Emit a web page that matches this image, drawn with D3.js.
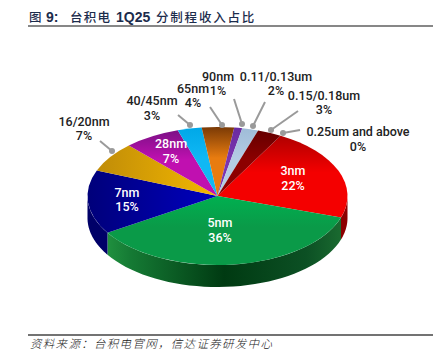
<!DOCTYPE html>
<html>
<head>
<meta charset="utf-8">
<script src="https://cdn.jsdelivr.net/npm/d3@7"></script>
<style>
  html, body { margin: 0; padding: 0; background: #fff; }
  svg { display: block; }
  text { font-family: Roboto, "Noto Sans CJK SC", sans-serif; }
</style>
</head>
<body>
<div id="chart"></div>
<script>
// #1 - The data (clockwise, starting at 3nm)
var nodes = ['3nm', '5nm', '7nm', '16/20nm', '28nm', '40/45nm', '65nm', '90nm', '0.11/0.13um', '0.15/0.18um', '0.25um and above'];
var shares = [22, 36, 15, 7, 7, 3, 4, 1, 2, 3, 0];

// slice colours: rim side, then centre side of the top face
var faceDark = ['#b00000', '#00b050', '#00007a', '#c08c08', '#7c1086', '#00a8e8', '#7a3a06', '#6a2ca0', '#9fbcd8', '#660000', '#660000'];
var faceLight = ['#f40000', '#0a9a48', '#0000c0', '#f4b800', '#c010b0', '#10b8f4', '#e87c10', '#7a34b0', '#b4cce4', '#8c0000', '#8c0000'];

// #2 - Build the SVG
var width = 442, height = 364;
var svg = d3.select('#chart').append('svg')
  .attr('width', width)
  .attr('height', height);
var defs = svg.append('defs');

// header, placed piece by piece because the spacing is uneven
var titleParts = ['图', '9:', '台积电', '1Q25', '分制程收入占比'];
var titleX = [29, 46, 70, 116, 156];
titleParts.forEach(function(t, i) {
  var latin = i === 1 || i === 3;
  svg.append('text').attr('x', titleX[i]).attr('y', 22)
    .style('font-family', latin ? '"Liberation Sans"' : '"Noto Sans CJK SC"')
    .style('font-size', latin ? '14px' : '12.5px')
    .style('font-weight', latin ? 700 : 500)
    .style('letter-spacing', i === 4 ? '1.8px' : (latin ? '0' : '1.2px'))
    .style('fill', '#1c2c4c')
    .text(t);
});
svg.append('line').attr('x1', 28).attr('x2', 433).attr('y1', 26).attr('y2', 26)
  .attr('style', 'stroke: #111; stroke-width: 1.2px');
svg.append('line').attr('x1', 28).attr('x2', 433).attr('y1', 335).attr('y2', 335)
  .attr('style', 'stroke: #444; stroke-width: 1.4px');
svg.append('text').attr('x', 30).attr('y', 348)
  .style('font-family', '"Noto Sans CJK SC"')
  .style('font-size', '11.5px').style('font-style', 'italic').style('font-weight', 300)
  .style('letter-spacing', '1.3px').style('fill', '#222')
  .text('资料来源\uFF1A台积电官网\uFF0C信达证券研发中心');

// #3 - Pie geometry: a circle squashed into an ellipse, plus a wall below it
var cx = 217.5, cy = 196, rx = 130, ry = 69, depth = 22;
var deg = Math.PI / 180;
var pie = d3.pie().sort(null).startAngle(29 * deg).endAngle(389 * deg)(shares);

var px = function(a) { return cx + rx * Math.sin(a); };
var py = function(a) { return cy - ry * Math.cos(a); };

// the wall, only the part of the rim facing the viewer
var wallStops = [
  [0, '#20903f'], [0.1, '#157a34'], [0.5, '#003a12'], [0.85, '#0c5024'], [1, '#1a6a30']
];
var wallGrad = defs.append('linearGradient').attr('id', 'wall-green')
  .attr('gradientUnits', 'userSpaceOnUse')
  .attr('x1', px(238 * deg)).attr('x2', px(108 * deg)).attr('y1', 0).attr('y2', 0);
wallStops.forEach(function(s) {
  wallGrad.append('stop').attr('offset', s[0]).attr('stop-color', s[1]);
});
var wallFill = {'3nm': '#8c0000', '5nm': 'url(#wall-green)', '7nm': '#000068'};

var line = d3.line().x(function(d) { return d[0]; }).y(function(d) { return d[1]; });
pie.forEach(function(d, i) {
  var a0 = Math.max(d.startAngle, 90 * deg), a1 = Math.min(d.endAngle, 270 * deg);
  if (a1 <= a0) return;
  var n = 40;
  var top = d3.range(n + 1).map(function(k) {
    var a = a0 + (a1 - a0) * k / n;
    return [px(a), py(a)];
  });
  var bottom = top.slice().reverse().map(function(p) { return [p[0], p[1] + depth]; });
  svg.append('path')
    .attr('d', line(top.concat(bottom)) + 'Z')
    .attr('fill', wallFill[nodes[i]]);
});

// the top face
var arc = d3.arc().innerRadius(0).outerRadius(rx);
var face = svg.append('g')
  .attr('transform', 'translate(' + cx + ',' + cy + ') scale(1,' + (ry / rx) + ')');
pie.forEach(function(d, i) {
  if (d.value === 0) return;
  var id = 'face-' + i;
  // 7nm and 16/20nm darken towards the left rim, the others towards the top
  var sideways = i === 2 || i === 3;
  var g = defs.append('linearGradient').attr('id', id)
    .attr('x1', 0).attr('y1', 0)
    .attr('x2', sideways ? 1 : 0).attr('y2', sideways ? 0 : 1);
  g.append('stop').attr('offset', 0).attr('stop-color', faceDark[i]);
  g.append('stop').attr('offset', sideways ? 1 : 0.45).attr('stop-color', faceLight[i]);
  face.append('path').attr('d', arc(d)).attr('fill', 'url(#' + id + ')');
});

// #4 - Leader lines: dot just beyond the rim, tail towards the label
var tails = {
  '16/20nm': [100, 141], '40/45nm': [178, 115], '65nm': [210, 107], '90nm': [234, 99],
  '0.11/0.13um': [265, 102], '0.15/0.18um': [298, 111], '0.25um and above': [300, 130]
};
var dots = {
  '16/20nm': [112, 151], '40/45nm': [190, 125], '65nm': [222, 125], '90nm': [242, 124],
  '0.11/0.13um': [253, 126], '0.15/0.18um': [271, 130], '0.25um and above': [283, 133]
};
Object.keys(tails).forEach(function(k) {
  svg.append('line')
    .attr('x1', tails[k][0]).attr('y1', tails[k][1])
    .attr('x2', dots[k][0]).attr('y2', dots[k][1])
    .attr('style', 'stroke: #9a9a9a; stroke-width: 2px');
  svg.append('circle').attr('cx', dots[k][0]).attr('cy', dots[k][1]).attr('r', 3).style('fill', '#9a9a9a');
});

// #5 - Labels, two lines each
var labelSpots = {
  '3nm': [293, 170, 185], '5nm': [220, 222, 237], '7nm': [127, 192, 206],
  '16/20nm': [84, 121, 135], '28nm': [171, 143, 158], '40/45nm': [152, 100, 115],
  '65nm': [193, 88, 102], '90nm': [218, 76, 90], '0.11/0.13um': [276, 76, 90],
  '0.15/0.18um': [324, 95, 109], '0.25um and above': [358, 131, 146]
};
var whiteLabels = ['3nm', '5nm', '7nm', '28nm'];
nodes.forEach(function(name, i) {
  var s = labelSpots[name];
  var color = whiteLabels.indexOf(name) >= 0 ? '#fff' : '#222';
  [[name, s[1]], [shares[i] + '%', s[2]]].forEach(function(t) {
    svg.append('text')
      .attr('x', s[0]).attr('y', t[1] + 4.5)
      .attr('text-anchor', 'middle')
      .style('font-size', '12.5px').style('font-weight', 500).style('fill', color)
      .text(t[0]);
  });
});
</script>
</body>
</html>
